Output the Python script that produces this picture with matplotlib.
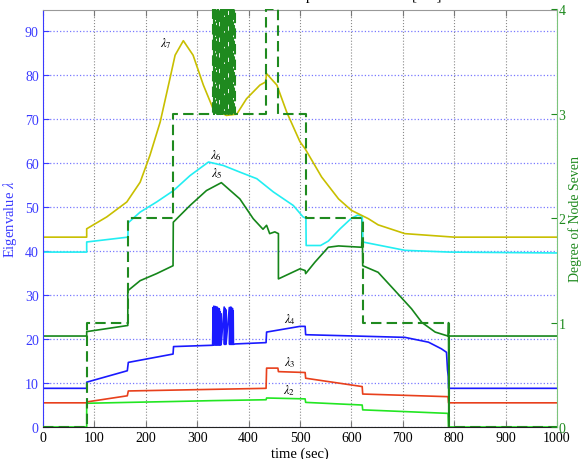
import matplotlib
matplotlib.use("Agg")
import matplotlib.pyplot as plt

plt.rcParams["font.family"] = ["Liberation Serif", "DejaVu Serif"]
plt.rcParams["mathtext.fontset"] = "stix"

# eigenvalue traces: time (sec) and value; repeated times are jumps
l2_t = [0, 85, 85, 166, 253, 330, 434, 435, 510, 511, 621, 622, 788, 789, 1000]
l2_v = [0, 0, 5.4, 5.6, 5.8, 6.0, 6.2, 6.6, 6.4, 5.6, 5.0, 3.9, 3.1, 0, 0]

l3_t = [0, 85, 85, 164, 166, 434, 435, 457, 458, 510, 511, 621, 622, 788, 789, 1000]
l3_v = [5.5, 5.5, 5.7, 7.1, 8.2, 8.8, 13.4, 13.4, 12.6, 12.4, 11.1, 9.2, 7.5, 6.9, 5.5, 5.5]

l4_t = [0, 85, 85, 164, 166, 253, 254, 330,
        331, 331.5, 332.5, 333, 334, 334.5, 335.5, 336, 337, 337.5, 338.5, 339,
        340, 340.5, 341.5, 342, 343, 343.5, 344.5, 345, 346, 346.5,
        352.5, 353, 354, 354.5, 355.5, 356,
        362.5, 363, 364, 364.5, 365.5, 366, 367, 367.5, 368.5, 369, 370, 370.5,
        374, 434, 435, 500, 510, 511, 704, 750, 775, 785, 787, 788.5, 789, 1000]
l4_v = [8.8, 8.8, 10.2, 12.8, 14.7, 16.6, 18.3, 18.6,
        27.2, 18.7, 27.5, 18.7, 26.6, 18.7, 27.4, 18.7, 26.9, 18.7, 27.3, 18.7,
        26.5, 18.7, 27.0, 18.7, 26.8, 18.7, 26.2, 18.7, 25.8, 18.7,
        27.3, 18.8, 27.0, 18.8, 26.7, 18.8,
        27.2, 18.8, 26.9, 18.8, 27.3, 18.8, 26.6, 18.8, 27.0, 18.8, 26.4, 18.8,
        18.9, 19.2, 21.6, 22.9, 22.9, 21.0, 20.4, 19.3, 17.8, 17.0, 13.0, 11.5, 8.8, 8.8]

l5_t = [0, 85, 85, 165, 165, 189, 221, 253, 253.5, 286, 318, 347, 383, 409, 428, 435,
        441, 451, 458, 458, 500, 510, 511, 529, 555, 575, 620, 621, 622, 652, 685,
        717, 737, 763, 785, 788.5, 789, 789.5, 790, 1000]
l5_v = [20.7, 20.7, 21.7, 23.1, 31.0, 33.3, 34.9, 36.7, 46.6, 50.4, 53.8, 55.6, 51.9, 47.4, 45.0, 45.9,
        44.0, 44.4, 44.0, 33.7, 36.0, 35.6, 34.9, 37.5, 40.9, 41.2, 40.9, 47.5, 36.7, 35.2, 31.0,
        26.9, 23.8, 21.6, 20.8, 20.7, 23.75, 0, 20.7, 20.7]

l6_t = [0, 85, 85, 165, 166, 189, 221, 254, 286, 322, 351, 383, 416, 448, 487, 506, 511.5,
        512, 540, 555, 578, 600, 612, 621, 622, 704, 791, 1000]
l6_v = [39.8, 39.8, 42.1, 43.2, 46.5, 48.9, 51.2, 53.8, 57.2, 60.3, 59.5, 58.0, 56.5, 53.5, 50.4, 47.8, 47.5,
        41.3, 41.3, 42.3, 45.1, 47.5, 48.2, 48.0, 42.1, 40.2, 39.8, 39.6]

l7_t = [0, 85, 85, 124, 163, 189, 208, 228, 247, 257, 273, 292, 312, 331, 357, 377,
        396, 422, 433, 435, 455, 474, 490, 500, 510, 542, 575, 600, 633, 652, 704, 800, 1000]
l7_v = [43.2, 43.2, 45.1, 47.8, 51.2, 55.7, 61.8, 69.4, 79.3, 84.6, 87.9, 84.6, 77.8, 72.4, 70.9, 71.2,
        74.7, 77.8, 78.5, 80.4, 77.8, 71.7, 67.5, 64.9, 63.3, 56.9, 51.9, 49.3, 47.4, 46.0, 44.0, 43.2, 43.2]

# degree of node seven: switch times and level held after each switch
# (between 330 and 374 s the degree flickers between 3 and 4)
deg_t = [0, 85, 166, 253.5,
         330.0, 330.6, 331.2, 331.8, 332.4, 333.0, 333.6, 334.2, 334.8, 335.4,
         336.0, 336.6, 337.2, 337.8, 338.4, 339.0, 339.6, 340.2, 340.8, 341.4,
         342.0, 342.6, 343.2, 343.8, 344.4, 345.0, 345.6, 346.2, 346.8, 347.4,
         348.0, 348.6, 349.2, 349.8, 350.4, 351.0, 351.6, 352.2, 352.8, 353.4,
         354.0, 354.6, 355.2, 355.8, 356.4, 357.0, 357.6, 358.2, 358.8, 359.4,
         360.0, 360.6, 361.2, 361.8, 362.4, 363.0, 363.6, 364.2, 364.8, 365.4,
         366.0, 366.6, 367.2, 367.8, 368.4, 369.0, 369.6, 370.2, 370.8, 371.4,
         372.0, 372.6, 373.2, 373.8,
         434, 458, 511.7, 622, 789, 1000]
deg_v = [0, 1, 2, 3,
         4, 3, 4, 3, 4, 3, 4, 3, 4, 3,
         4, 3, 4, 3, 4, 3, 4, 3, 4, 3,
         4, 3, 4, 3, 4, 3, 4, 3, 4, 3,
         4, 3, 4, 3, 4, 3, 4, 3, 4, 3,
         4, 3, 4, 3, 4, 3, 4, 3, 4, 3,
         4, 3, 4, 3, 4, 3, 4, 3, 4, 3,
         4, 3, 4, 3, 4, 3, 4, 3, 4, 3,
         4, 3, 4, 3,
         4, 3, 2, 1, 0, 0]

series = [
    (l2_t, l2_v, "#22e622", r"$\lambda_2$", 479, 8.4),
    (l3_t, l3_v, "#e8401c", r"$\lambda_3$", 480, 14.8),
    (l4_t, l4_v, "#1a1aff", r"$\lambda_4$", 480, 24.6),
    (l5_t, l5_v, "#15861a", r"$\lambda_5$", 338, 57.8),
    (l6_t, l6_v, "#22eef2", r"$\lambda_6$", 336, 62.0),
    (l7_t, l7_v, "#c8bf00", r"$\lambda_7$", 240, 87.4),
]

blue = "#3a3aff"
green = "#1f8a1f"

fig = plt.figure(figsize=(5.82, 4.60), dpi=100)
ax = fig.add_axes([43 / 582, 32 / 460, 514 / 582, 417.5 / 460])

for t, v, c, lab, lx, ly in series:
    ax.plot(t, v, color=c, lw=1.2)
    ax.text(lx, ly, lab, fontsize=9, ha="center", va="center", color="black")

ax.set_xlim(0, 1000)
ax.set_ylim(0, 95)
ax.set_xticks(range(0, 1001, 100))
ax.set_yticks(range(0, 91, 10))
ax.xaxis.grid(True, color="#8a8a8a", ls=":", lw=0.8)
ax.yaxis.grid(True, color="#7878ff", ls=":", lw=0.9)
ax.tick_params(axis="x", direction="in", top=True, length=4, color="#777777",
               labelsize=10, labelcolor="black", pad=3)
ax.tick_params(axis="y", direction="in", right=True, length=4, color=blue,
               labelsize=10, labelcolor=blue, pad=3)
ax.spines["left"].set_color(blue)
ax.spines["right"].set_visible(False)
ax.spines["top"].set_color("#999999")
ax.spines["bottom"].set_color("#222222")
ax.set_xlabel("time (sec)", fontsize=10.5, labelpad=2)
ax.set_ylabel("Eigenvalue $\\lambda$", fontsize=10.5, color=blue, labelpad=4)

ax2 = ax.twinx()
ax2.plot(deg_t, deg_v, color=green, lw=1.5, ls=(0, (5, 2.5)), drawstyle="steps-post")
ax2.set_ylim(0, 4)
ax2.set_yticks([0, 1, 2, 3, 4])
ax2.tick_params(axis="y", direction="in", length=4, color=green,
                labelsize=10, labelcolor=green, pad=1)
for s in ("left", "top", "bottom"):
    ax2.spines[s].set_visible(False)
ax2.spines["right"].set_color("#7cc47c")
ax2.set_ylabel("Degree of Node Seven", fontsize=10, color=green, labelpad=2)

fig.text(441 / 582, 1.0, "Network Spectrum vs. time [sec]", fontsize=11,
         ha="right", va="baseline")

fig.savefig("out.png", dpi=100)
